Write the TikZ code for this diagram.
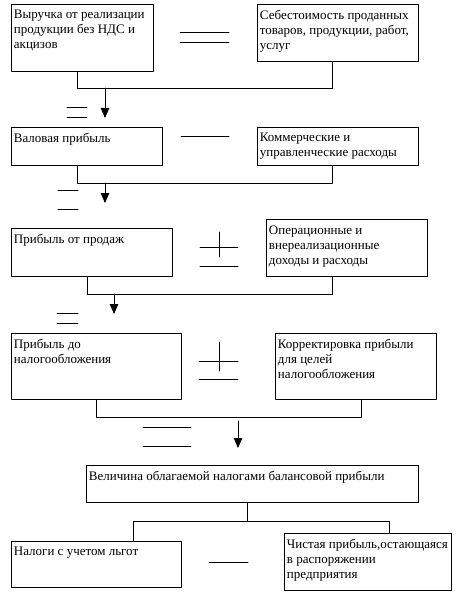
\documentclass[tikz,border=0pt]{standalone}
\usepackage{fontspec}
\setmainfont{Liberation Serif}
\usetikzlibrary{arrows.meta}
\newcommand{\blktext}[3]{\parbox[t][#2][t]{#1}{\vspace*{6pt}\raggedright #3}}
\begin{document}
\begin{tikzpicture}[x=1pt,y=-1pt,line cap=round,line join=round,
  blk/.style={draw,line width=0.9pt,anchor=north west,inner xsep=2.5pt,inner ysep=0pt,
    font=\fontsize{13}{15}\selectfont},
  lnk/.style={line width=0.9pt},
  arr/.style={line width=0.9pt,-{Triangle[length=10pt,width=8.5pt]}},
  sgn/.style={line width=0.9pt}]
\useasboundingbox (0,0) rectangle (462,604);
% boxes
\node[blk] (rev) at (11,4) {\blktext{137pt}{67pt}{Выручка от реализации\\продукции без НДС и\\акцизов}};
\node[blk] (cost) at (257,4) {\blktext{156pt}{57pt}{Себестоимость проданных\\товаров, продукции, работ,\\услуг}};
\node[blk] (gross) at (11,127) {\blktext{146pt}{38pt}{Валовая прибыль}};
\node[blk] (comm) at (257,127) {\blktext{156pt}{38pt}{Коммерческие и\\управленческие расходы}};
\node[blk] (sales) at (11,228) {\blktext{156pt}{48pt}{Прибыль от продаж}};
\node[blk] (oper) at (266,219) {\blktext{156pt}{57pt}{Операционные и\\внереализационные\\доходы и расходы}};
\node[blk] (pretax) at (11,333) {\blktext{165pt}{66pt}{Прибыль до\\налогообложения}};
\node[blk] (corr) at (275,333) {\blktext{156pt}{66pt}{Корректировка прибыли\\для целей\\налогообложения}};
\node[blk] (base) at (86,465) {\blktext{327pt}{37pt}{Величина облагаемой налогами балансовой прибыли}};
\node[blk] (tax) at (11,541) {\blktext{165pt}{46pt}{Налоги с учетом льгот}};
\node[blk] (net) at (284,533) {\blktext{162pt}{57pt}{Чистая прибыль,остающаяся\\в распоряжении\\предприятия}};
% arrow ends
\coordinate (t1) at (105,118);
\coordinate (t2) at (105,203);
\coordinate (t3) at (114,314);
\coordinate (t4) at (238,448);
% connectors
\draw[lnk] (77,0 |- rev.south) -- (77,88) -| (332,0 |- cost.south);
\draw[arr] (t1 |- 0,88) -- (t1);
\draw[lnk] (77,0 |- gross.south) -- (77,183) -| (332,0 |- comm.south);
\draw[arr] (t2 |- 0,183) -- (t2);
\draw[lnk] (87,0 |- sales.south) -- (87,294) -| (332,0 |- oper.south);
\draw[arr] (t3 |- 0,294) -- (t3);
\draw[lnk] (96,0 |- pretax.south) -- (96,417) -| (361,0 |- corr.south);
\draw[arr] (t4 |- 0,421) -- (t4);
\draw[lnk] (247,0 |- base.south) -- (247,521);
\draw[lnk] (133,0 |- tax.north) |- (389,521) -- (389,0 |- net.north);
% signs
\draw[sgn] (180,32) -- (229,32) (180,42) -- (229,42);
\draw[sgn] (67,107) -- (87,107) (67,117) -- (87,117);
\draw[sgn] (181,136) -- (229,136);
\draw[sgn] (58,190) -- (78,190) (58,209) -- (78,209);
\draw[sgn] (200,247) -- (238,247) (219,232) -- (219,257) (200,266) -- (238,266);
\draw[sgn] (57,313) -- (78,313) (57,323) -- (78,323);
\draw[sgn] (199,361) -- (238,361) (219,342) -- (219,371) (199,379) -- (238,379);
\draw[sgn] (143,427) -- (191,427) (143,446) -- (191,446);
\draw[sgn] (209,562) -- (248,562);
\end{tikzpicture}
\end{document}
